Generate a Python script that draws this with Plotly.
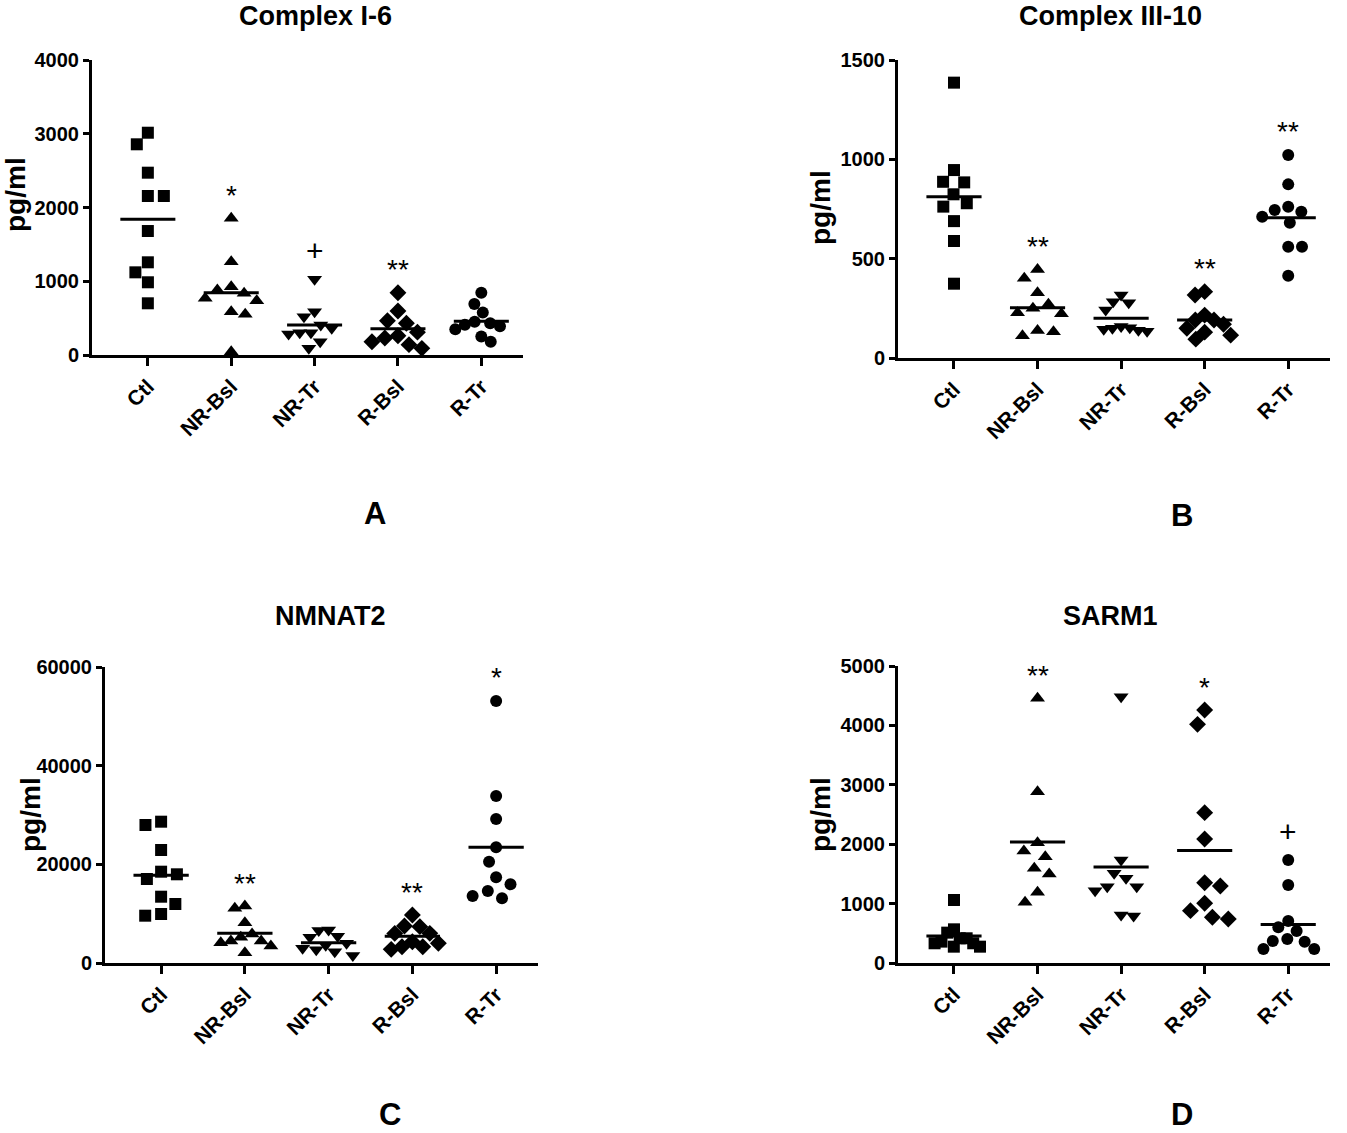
import math
import plotly.graph_objects as go

# ---------------- data ----------------
cats = ["Ctl", "NR-Bsl", "NR-Tr", "R-Bsl", "R-Tr"]

il6_ctl = [3014, 2857, 2472, 2156, 2156, 1681, 1257, 1121, 986, 701]
il6_nrbsl = [1853, 1266, 927, 881, 836, 768, 737, 588, 551, 45]
il6_nrtr = [1026, 588, 520, 407, 362, 303, 285, 303, 181, 90]
il6_rbsl = [845, 597, 465, 430, 310, 260, 230, 180, 140, 90]
il6_rtr = [845, 690, 575, 450, 430, 410, 390, 350, 250, 180]

il10_ctl = [1386, 946, 884, 887, 824, 779, 762, 689, 589, 374]
il10_nrbsl = [446, 401, 329, 270, 250, 228, 223, 139, 132, 112]
il10_nrtr = [317, 278, 242, 283, 158, 150, 140, 135, 152, 145]
il10_rbsl = [317, 334, 216, 191, 191, 170, 150, 130, 115, 95]
il10_rtr = [1022, 874, 761, 736, 745, 711, 681, 560, 560, 414]

nmnat_ctl = [28643, 27975, 22907, 17980, 18508, 17028, 13440, 11960, 9589, 9933]
nmnat_nrbsl = [11088, 11555, 8170, 5879, 4460, 4115, 4460, 3446, 2088, 5200]
nmnat_nrtr = [6700, 6600, 5400, 5200, 4000, 3600, 3000, 2700, 2300, 1500]
nmnat_rbsl = [9730, 7500, 7365, 6014, 6000, 4320, 3300, 2770, 3300, 4000]
nmnat_rtr = [53110, 33850, 29190, 23450, 20540, 17370, 15950, 14600, 13580, 13110]

sarm_ctl = [1061, 567, 511, 416, 416, 332, 332, 275, 275, 360]
sarm_nrbsl = [4456, 2884, 2026, 1886, 1790, 1594, 1498, 1190, 1022]
sarm_nrtr = [4484, 1734, 1426, 1510, 1285, 1285, 1217, 791, 808]
sarm_rbsl = [4259, 4018, 2531, 2088, 1352, 1296, 1005, 881, 741, 769]
sarm_rtr = [1734, 1313, 707, 601, 539, 404, 359, 370, 236, 236]

sig_il6 = ["", "*", "+", "**", ""]
sig_il10 = ["", "**", "", "**", "**"]
sig_nmnat = ["", "**", "", "**", "*"]
sig_sarm = ["", "**", "", "*", "+"]

titles = ["Complex I-6", "Complex III-10", "NMNAT2", "SARM1"]
letters = ["A", "B", "C", "D"]
ymaxes = [4000, 1500, 60000, 5000]
ytick_lists = [
    [0, 1000, 2000, 3000, 4000],
    [0, 500, 1000, 1500],
    [0, 20000, 40000, 60000],
    [0, 1000, 2000, 3000, 4000, 5000],
]
y_label = "pg/ml"

groups = [
    [il6_ctl, il6_nrbsl, il6_nrtr, il6_rbsl, il6_rtr],
    [il10_ctl, il10_nrbsl, il10_nrtr, il10_rbsl, il10_rtr],
    [nmnat_ctl, nmnat_nrbsl, nmnat_nrtr, nmnat_rbsl, nmnat_rtr],
    [sarm_ctl, sarm_nrbsl, sarm_nrtr, sarm_rbsl, sarm_rtr],
]
sigs = [sig_il6, sig_il10, sig_nmnat, sig_sarm]

# ---------------- layout (pixels) ----------------
W, H = 1347, 1133
boxes = [  # x0, x1, ytop, ybottom in px
    (92, 523, 60, 355),
    (898, 1330, 60, 358),
    (105, 538, 667, 963),
    (898, 1330, 666, 963),
]
title_pos = [(315, 16.5), (1110, 16.5), (330, 616), (1110, 616)]
letter_pos = [(375, 513), (1182, 515), (390, 1114), (1182, 1114)]
ylab_pos = [(15, 195), (820, 208), (30, 815), (820, 815)]
XMIN, XMAX = -0.67, 4.5
symbols = ["square", "triangle-up", "triangle-down", "diamond", "circle"]
sizes = [12, 13, 13, 13, 12]
FONT = "Liberation Sans, Arial, sans-serif"


def swarm(vals, ppu, D=16.0, maxw=26.0):
    n = len(vals)
    ys = [v * ppu for v in vals]
    order = sorted(range(n), key=lambda i: -vals[i])
    xs = [0.0] * n
    placed = []
    for i in order:
        y = ys[i]
        cands = [0.0]
        for j in placed:
            dy = abs(ys[j] - y)
            if dy < D:
                dx = math.sqrt(D * D - dy * dy)
                cands += [xs[j] + dx, xs[j] - dx]
        ok = [c for c in cands
              if all((c - xs[j]) ** 2 + (ys[j] - y) ** 2 >= D * D - 1e-6 for j in placed)]
        bal = sum(xs[j] for j in placed)
        best = min(ok, key=lambda c: (round(abs(c), 3), 1 if c * bal > 0 else 0, c))
        xs[i] = best
        placed.append(i)
    m = max(abs(x) for x in xs)
    if m > maxw:
        xs = [x * maxw / m for x in xs]
    return xs


fig = go.Figure()
annotations = []

for p in range(4):
    x0, x1, yt, yb = boxes[p]
    xd = [x0 / W, x1 / W]
    yd = [1 - yb / H, 1 - yt / H]
    xppc = (x1 - x0) / (XMAX - XMIN)
    yppu = (yb - yt) / ymaxes[p]
    suffix = "" if p == 0 else str(p + 1)
    xa, ya = "x" + suffix, "y" + suffix

    for g in range(5):
        vals = groups[p][g]
        offs = swarm(vals, yppu)
        fig.add_trace(go.Scatter(
            x=[g + o / xppc for o in offs], y=vals, mode="markers",
            marker=dict(symbol=symbols[g], size=sizes[g], color="black",
                        line=dict(width=0)),
            xaxis=xa, yaxis=ya, showlegend=False, cliponaxis=False,
            hoverinfo="y"))
        mean = sum(vals) / len(vals)
        fig.add_trace(go.Scatter(
            x=[g - 0.33, g + 0.33], y=[mean, mean], mode="lines",
            line=dict(color="black", width=3),
            xaxis=xa, yaxis=ya, showlegend=False, cliponaxis=False,
            hoverinfo="skip"))
        s = sigs[p][g]
        if s:
            annotations.append(dict(
                x=g, y=max(vals), xref=xa, yref=ya, text=s, showarrow=False,
                yanchor="middle", xanchor="center",
                yshift=29 if s == "+" else 23,
                font=dict(family=FONT, size=30 if s == "+" else 28, color="black")))

    axis_common = dict(showline=True, linecolor="black", linewidth=3,
                       ticks="outside", tickcolor="black", tickwidth=2.5,
                       showgrid=False, zeroline=False, automargin=False)
    fig.update_layout(**{
        ("xaxis" + suffix): dict(domain=xd, range=[XMIN, XMAX], tickvals=list(range(5)),
                                 ticktext=cats, tickangle=-45, ticklen=8,
                                 tickfont=dict(family=FONT, size=21, color="black", weight="bold"),
                                 anchor=ya, **axis_common),
        ("yaxis" + suffix): dict(domain=yd, range=[0, ymaxes[p]], tickvals=ytick_lists[p],
                                 tickformat="d", ticklen=6, anchor=xa,
                                 tickfont=dict(family=FONT, size=20, color="black", weight="bold"),
                                 **axis_common),
    })

    tx, ty = title_pos[p]
    annotations.append(dict(x=tx / W, y=1 - ty / H, xref="paper", yref="paper",
                            text="<b>%s</b>" % titles[p], showarrow=False,
                            xanchor="center", yanchor="middle",
                            font=dict(family=FONT, size=27, color="black")))
    lx, ly = letter_pos[p]
    annotations.append(dict(x=lx / W, y=1 - ly / H, xref="paper", yref="paper",
                            text="<b>%s</b>" % letters[p], showarrow=False,
                            xanchor="center", yanchor="middle",
                            font=dict(family=FONT, size=31, color="black")))
    px_, py_ = ylab_pos[p]
    annotations.append(dict(x=px_ / W, y=1 - py_ / H, xref="paper", yref="paper",
                            text="<b>%s</b>" % y_label, showarrow=False, textangle=-90,
                            xanchor="center", yanchor="middle",
                            font=dict(family=FONT, size=28, color="black")))

fig.update_layout(width=W, height=H, autosize=False,
                  margin=dict(l=0, r=0, t=0, b=0, pad=0, autoexpand=False),
                  paper_bgcolor="white", plot_bgcolor="white",
                  annotations=annotations)

fig.write_html("out.html")
